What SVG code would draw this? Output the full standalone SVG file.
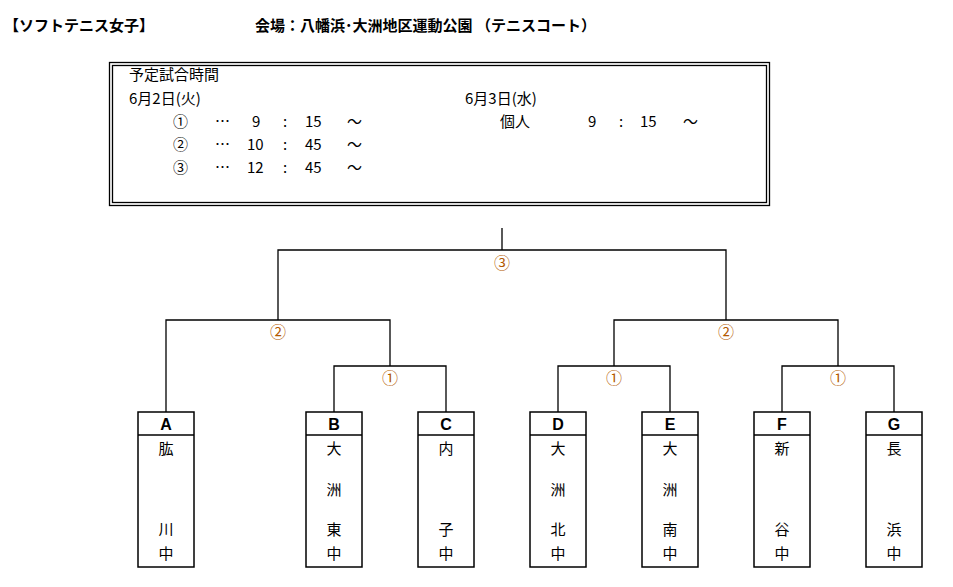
<svg xmlns="http://www.w3.org/2000/svg" width="953" height="587" viewBox="0 0 953 587">
<style>
text{font-family:"Noto Sans CJK JP","Liberation Sans",sans-serif;font-size:15px;fill:#000}
.h{font-weight:bold;font-size:15px}
.c{text-anchor:middle}
.o{fill:#b35900;font-size:16px;text-anchor:middle}
.b{font-family:"Liberation Sans",sans-serif;font-weight:bold;font-size:16px;text-anchor:middle}
.ln{stroke:#000;stroke-width:1.3;fill:none}
.n{fill:#fff;stroke:#000;stroke-width:1.5}
</style>
<rect width="953" height="587" fill="#fff"/>
<text class="h" x="4" y="31">【ソフトテニス女子】</text>
<text class="h" x="255" y="31">会場：八幡浜･大洲地区運動公園 （テニスコート）</text>
<g id="schedule">
<rect x="109.5" y="62.5" width="660" height="143" fill="none" stroke="#000" stroke-width="1.3"/>
<rect x="112.5" y="65.5" width="654" height="137" fill="none" stroke="#000" stroke-width="1.3"/>
<text x="129" y="80">予定試合時間</text>
<text x="129" y="104">6月2日(火)</text>
<text x="173" y="127">①</text><text x="215" y="127">…</text><text x="252" y="127">9</text><text x="283" y="127">:</text><text x="305" y="127">15</text><text x="347" y="127">～</text>
<text x="173" y="150">②</text><text x="215" y="150">…</text><text x="247" y="150">10</text><text x="283" y="150">:</text><text x="305" y="150">45</text><text x="347" y="150">～</text>
<text x="173" y="173">③</text><text x="215" y="173">…</text><text x="247" y="173">12</text><text x="283" y="173">:</text><text x="305" y="173">45</text><text x="347" y="173">～</text>
<text x="465" y="104">6月3日(水)</text>
<text x="500" y="127">個人</text><text x="588" y="127">9</text><text x="619" y="127">:</text><text x="640" y="127">15</text><text x="683" y="127">～</text>
</g>
<g id="connectors" class="ln">
<path d="M502 228V250M278 320V250H726V320M166 412V320H390V366M334 412V366H446V412M614 366V320H838V366M558 412V366H670V412M782 412V366H894V412"/>
</g>
<g id="labels">
<text class="o" x="502" y="269">③</text>
<text class="o" x="278" y="338">②</text>
<text class="o" x="726" y="338">②</text>
<text class="o" x="390" y="384">①</text>
<text class="o" x="614" y="384">①</text>
<text class="o" x="838" y="384">①</text>
</g>
<g id="nA"><rect class="n" x="138" y="412" width="56" height="155"/><line class="ln" x1="138" y1="435" x2="194" y2="435"/><text class="b" x="166" y="430">A</text><text class="c" x="166" y="454">肱</text><text class="c" x="166" y="535">川</text><text class="c" x="166" y="559">中</text></g>
<g id="nB"><rect class="n" x="306" y="412" width="56" height="155"/><line class="ln" x1="306" y1="435" x2="362" y2="435"/><text class="b" x="334" y="430">B</text><text class="c" x="334" y="454">大</text><text class="c" x="334" y="495">洲</text><text class="c" x="334" y="535">東</text><text class="c" x="334" y="559">中</text></g>
<g id="nC"><rect class="n" x="418" y="412" width="56" height="155"/><line class="ln" x1="418" y1="435" x2="474" y2="435"/><text class="b" x="446" y="430">C</text><text class="c" x="446" y="454">内</text><text class="c" x="446" y="535">子</text><text class="c" x="446" y="559">中</text></g>
<g id="nD"><rect class="n" x="530" y="412" width="56" height="155"/><line class="ln" x1="530" y1="435" x2="586" y2="435"/><text class="b" x="558" y="430">D</text><text class="c" x="558" y="454">大</text><text class="c" x="558" y="495">洲</text><text class="c" x="558" y="535">北</text><text class="c" x="558" y="559">中</text></g>
<g id="nE"><rect class="n" x="642" y="412" width="56" height="155"/><line class="ln" x1="642" y1="435" x2="698" y2="435"/><text class="b" x="670" y="430">E</text><text class="c" x="670" y="454">大</text><text class="c" x="670" y="495">洲</text><text class="c" x="670" y="535">南</text><text class="c" x="670" y="559">中</text></g>
<g id="nF"><rect class="n" x="754" y="412" width="56" height="155"/><line class="ln" x1="754" y1="435" x2="810" y2="435"/><text class="b" x="782" y="430">F</text><text class="c" x="782" y="454">新</text><text class="c" x="782" y="535">谷</text><text class="c" x="782" y="559">中</text></g>
<g id="nG"><rect class="n" x="866" y="412" width="56" height="155"/><line class="ln" x1="866" y1="435" x2="922" y2="435"/><text class="b" x="894" y="430">G</text><text class="c" x="894" y="454">長</text><text class="c" x="894" y="535">浜</text><text class="c" x="894" y="559">中</text></g>
</svg>
